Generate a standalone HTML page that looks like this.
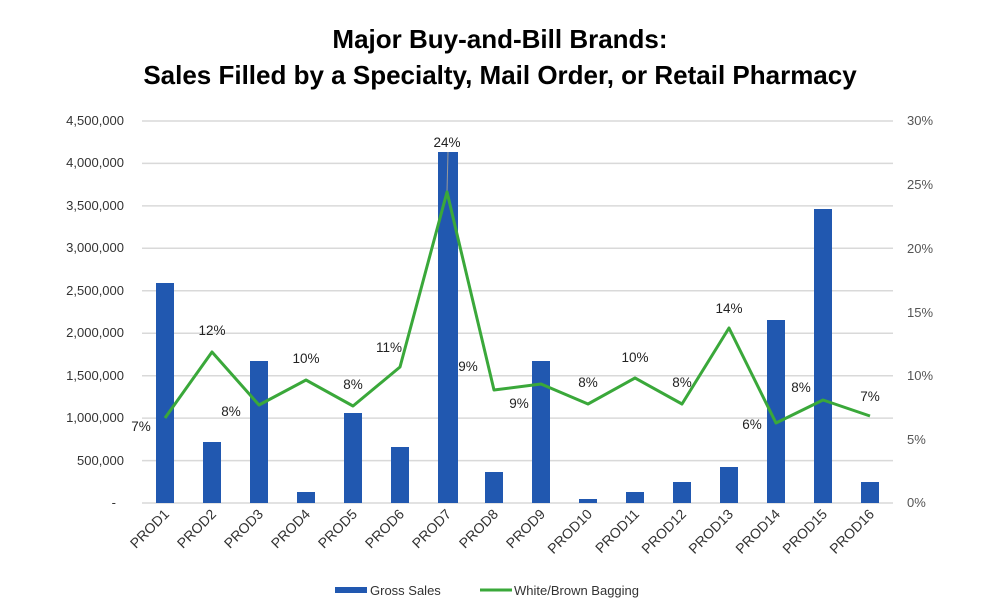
<!DOCTYPE html>
<html><head><meta charset="utf-8"><style>
body{margin:0;background:#fff;}
svg{display:block;font-family:"Liberation Sans",Arial,sans-serif;}
</style></head><body>
<svg width="1000" height="613" viewBox="0 0 1000 613" xmlns="http://www.w3.org/2000/svg">
<text x="500" y="48" text-anchor="middle" font-size="26" font-weight="bold" fill="#000">Major Buy-and-Bill Brands:</text>
<text x="500" y="84" text-anchor="middle" font-size="26" font-weight="bold" fill="#000">Sales Filled by a Specialty, Mail Order, or Retail Pharmacy</text>
<g stroke="#d9d9d9" stroke-width="1.5">
<line x1="142" x2="893" y1="121" y2="121"/><line x1="142" x2="893" y1="163.4" y2="163.4"/>
<line x1="142" x2="893" y1="205.9" y2="205.9"/><line x1="142" x2="893" y1="248.3" y2="248.3"/>
<line x1="142" x2="893" y1="290.8" y2="290.8"/><line x1="142" x2="893" y1="333.2" y2="333.2"/>
<line x1="142" x2="893" y1="375.7" y2="375.7"/><line x1="142" x2="893" y1="418.1" y2="418.1"/>
<line x1="142" x2="893" y1="460.6" y2="460.6"/><line x1="142" x2="893" y1="503" y2="503"/>
</g>
<g font-size="13" fill="#333" text-anchor="end">
<text x="124" y="125">4,500,000</text><text x="124" y="167">4,000,000</text>
<text x="124" y="210">3,500,000</text><text x="124" y="252">3,000,000</text>
<text x="124" y="295">2,500,000</text><text x="124" y="337">2,000,000</text>
<text x="124" y="380">1,500,000</text><text x="124" y="422">1,000,000</text>
<text x="124" y="465">500,000</text><text x="116" y="507">-</text>
</g>
<g font-size="13" fill="#555">
<text x="907" y="125">30%</text><text x="907" y="189">25%</text><text x="907" y="253">20%</text>
<text x="907" y="317">15%</text><text x="907" y="380">10%</text><text x="907" y="444">5%</text>
<text x="907" y="507">0%</text>
</g>
<g fill="#2158b0">
<rect x="156" y="283" width="18" height="220"/>
<rect x="203" y="442" width="18" height="61"/>
<rect x="250" y="361" width="18" height="142"/>
<rect x="297" y="492" width="18" height="11"/>
<rect x="344" y="413" width="18" height="90"/>
<rect x="391" y="447" width="18" height="56"/>
<rect x="438" y="152" width="20" height="351"/>
<rect x="485" y="472" width="18" height="31"/>
<rect x="532" y="361" width="18" height="142"/>
<rect x="579" y="499" width="18" height="4"/>
<rect x="626" y="492" width="18" height="11"/>
<rect x="673" y="482" width="18" height="21"/>
<rect x="720" y="467" width="18" height="36"/>
<rect x="767" y="320" width="18" height="183"/>
<rect x="814" y="209" width="18" height="294"/>
<rect x="861" y="482" width="18" height="21"/>
</g>
<line x1="448" y1="152" x2="447" y2="192" stroke="#999" stroke-width="1"/>
<polyline fill="none" stroke="#3aa83a" stroke-width="3" stroke-linejoin="round" points="165,418 212,352 259,405 306,380 353,406 400,367 447,192 494,390 541,384 588,404 635,378 682,404 729,328 776,423 823,400 870,416"/>
<g font-size="13.5" fill="#222" text-anchor="middle">
<text x="141" y="431">7%</text><text x="212" y="335">12%</text><text x="231" y="416">8%</text>
<text x="306" y="363">10%</text><text x="353" y="389">8%</text><text x="389" y="352">11%</text>
<text x="447" y="147">24%</text><text x="468" y="371">9%</text><text x="519" y="408">9%</text>
<text x="588" y="387">8%</text><text x="635" y="362">10%</text><text x="682" y="387">8%</text>
<text x="729" y="313">14%</text><text x="752" y="429">6%</text><text x="801" y="392">8%</text>
<text x="870" y="401">7%</text>
</g>
<g font-size="14" fill="#333" text-anchor="end">
<text transform="translate(170,515) rotate(-45)">PROD1</text>
<text transform="translate(217,515) rotate(-45)">PROD2</text>
<text transform="translate(264,515) rotate(-45)">PROD3</text>
<text transform="translate(311,515) rotate(-45)">PROD4</text>
<text transform="translate(358,515) rotate(-45)">PROD5</text>
<text transform="translate(405,515) rotate(-45)">PROD6</text>
<text transform="translate(452,515) rotate(-45)">PROD7</text>
<text transform="translate(499,515) rotate(-45)">PROD8</text>
<text transform="translate(546,515) rotate(-45)">PROD9</text>
<text transform="translate(593,515) rotate(-45)">PROD10</text>
<text transform="translate(640,515) rotate(-45)">PROD11</text>
<text transform="translate(687,515) rotate(-45)">PROD12</text>
<text transform="translate(734,515) rotate(-45)">PROD13</text>
<text transform="translate(781,515) rotate(-45)">PROD14</text>
<text transform="translate(828,515) rotate(-45)">PROD15</text>
<text transform="translate(875,515) rotate(-45)">PROD16</text>
</g>
<rect x="335" y="587" width="32" height="6" fill="#2158b0"/>
<text x="370" y="595" font-size="13" fill="#333">Gross Sales</text>
<line x1="480" y1="590" x2="512" y2="590" stroke="#3aa83a" stroke-width="3"/>
<text x="514" y="595" font-size="13" fill="#333">White/Brown Bagging</text>
</svg>
</body></html>
